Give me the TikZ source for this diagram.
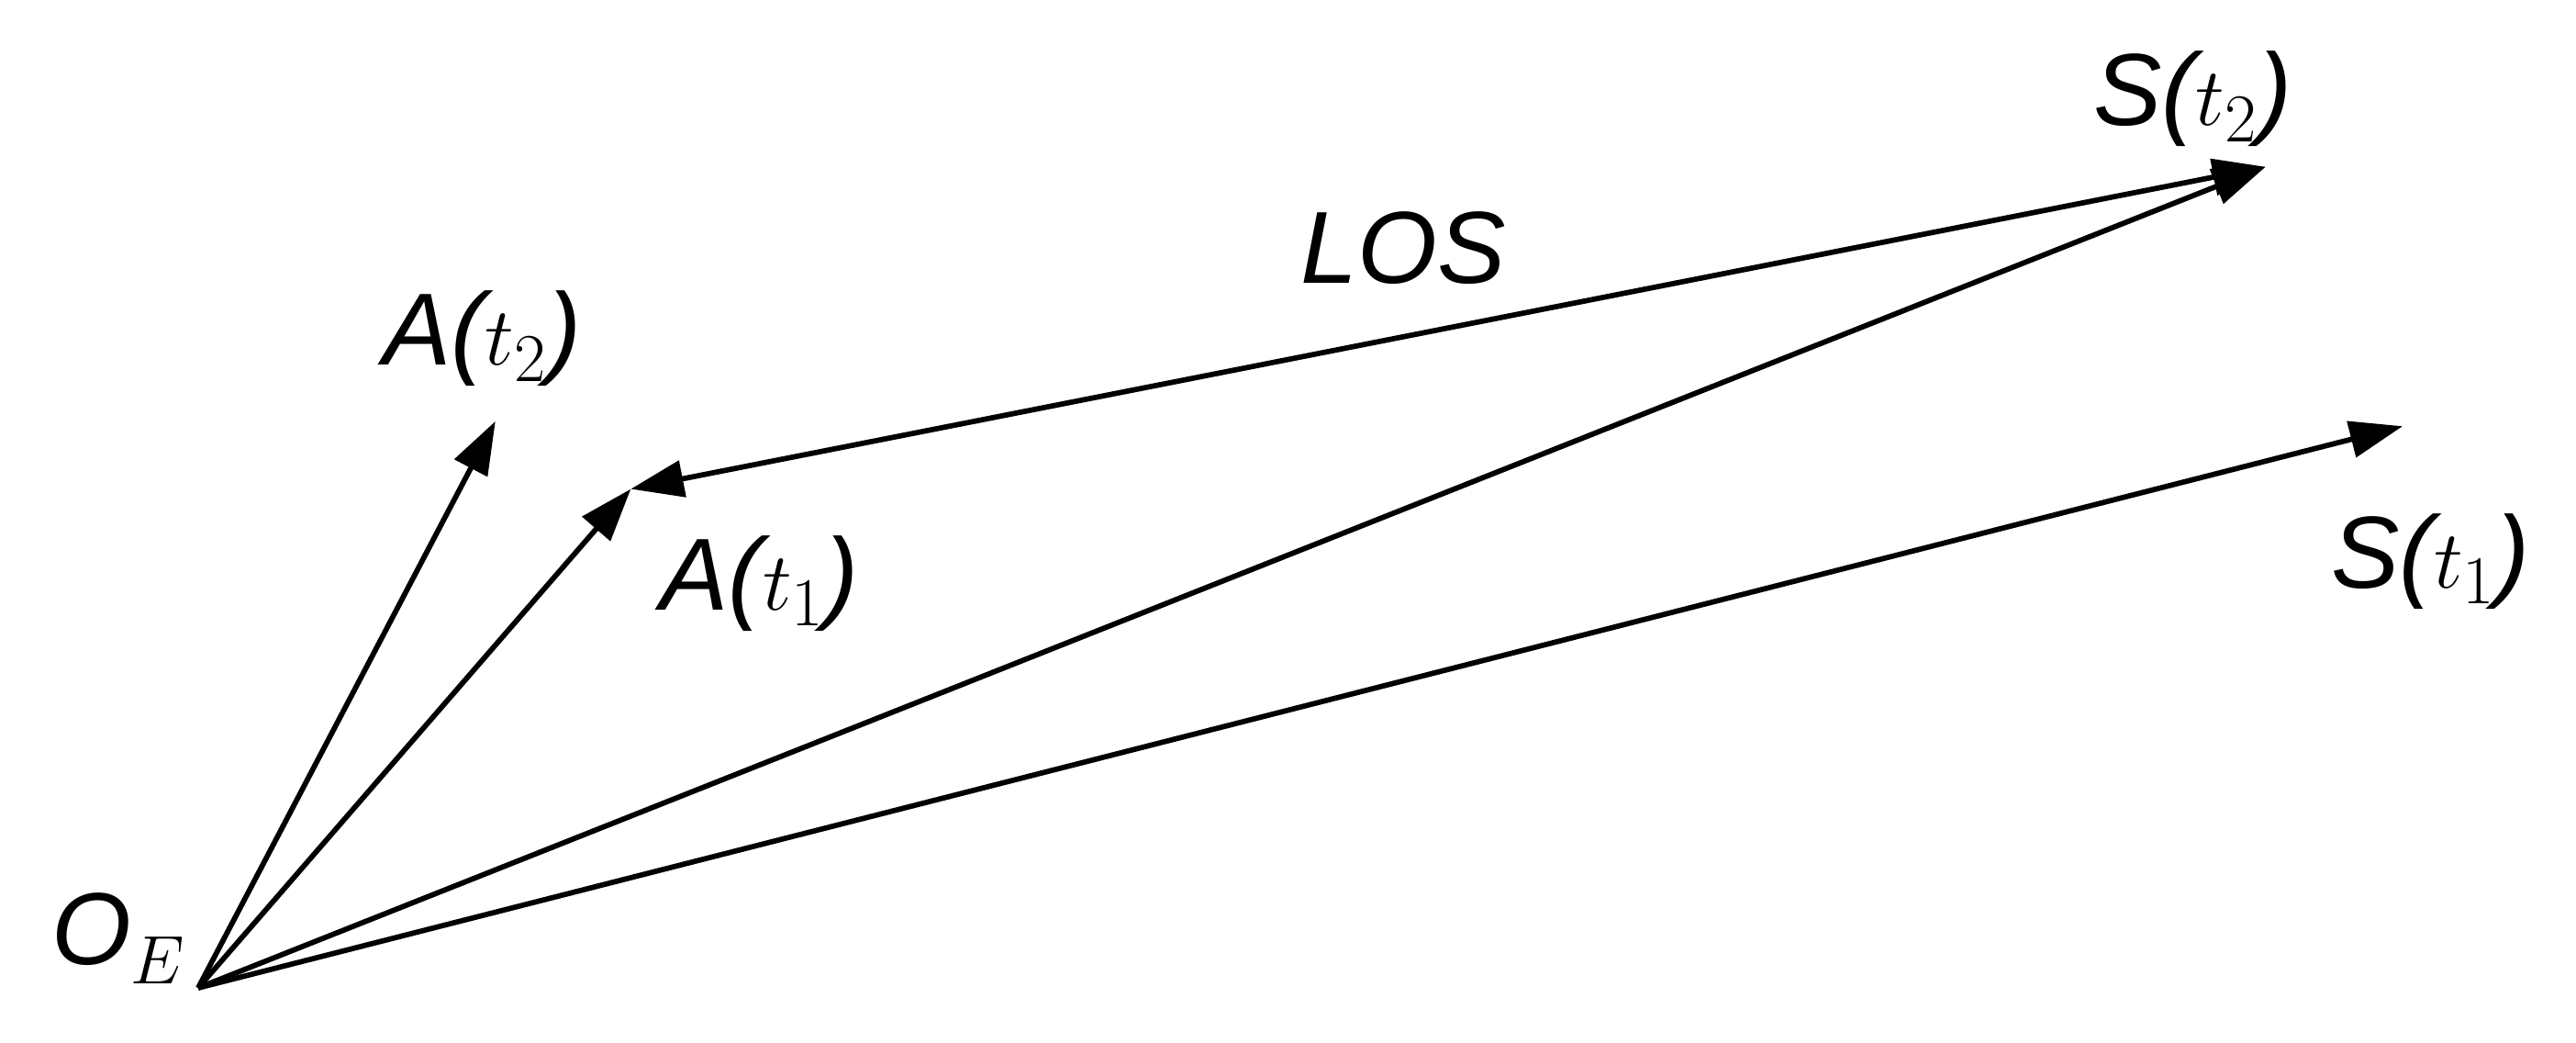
\documentclass[tikz,border=0pt]{standalone}
\usepackage{fontspec}
\setmainfont{Liberation Sans}
\usetikzlibrary{arrows.meta}
\begin{document}
\begin{tikzpicture}[x=0.5pt,y=-0.5pt,
  vec/.style={line width=1.6pt,-{Triangle[length=16pt,width=11pt]}},
  lbl/.style={font=\fontsize{31}{31}\selectfont\itshape,inner sep=0pt}]
\useasboundingbox (0,0) rectangle (1560,631);
\coordinate (O) at (120,598);
\coordinate (A2) at (300,255);
\coordinate (A1) at (382,296);
\coordinate (S2) at (1372,101);
\coordinate (S1) at (1455,258);
\draw[vec] (O) -- (A2);
\draw[vec] (O) -- (A1);
\draw[vec] (O) -- (S2);
\draw[vec] (O) -- (S1);
\draw[vec,{Triangle[length=16pt,width=11pt]}-{Triangle[length=16pt,width=11pt]}] (A1) -- (S2);
\node[lbl] (lA2) at (292,205) {A($t_2$)};
\node[lbl] (lA1) at (460,353) {A($t_1$)};
\node[lbl] (lS2) at (1328,60) {S($t_2$)};
\node[lbl] (lS1) at (1472,340) {S($t_1$)};
\node[lbl] (lL) at (850,150) {LOS};
\node[lbl] (lO) at (72,568) {O$_E$};
\end{tikzpicture}
\end{document}
